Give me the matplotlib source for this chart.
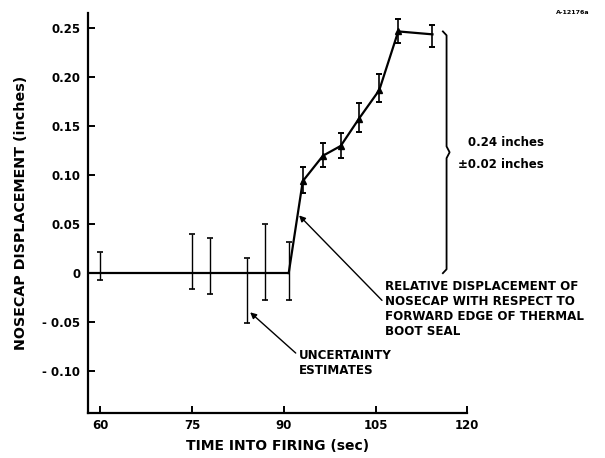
import matplotlib.pyplot as plt
import numpy as np

# flat part, before the nosecap starts to move
t_flat = [60, 75, 78, 84, 87, 90.8]
d_flat = [0, 0, 0, 0, 0, 0]
up_flat = [0.022, 0.040, 0.036, 0.016, 0.050, 0.032]
lo_flat = [0.007, 0.016, 0.021, 0.051, 0.027, 0.027]

# rising part
t_rise = [93.1, 96.4, 99.3, 102.3, 105.6, 108.7, 114.3]
d_rise = [0.094, 0.120, 0.130, 0.158, 0.187, 0.247, 0.244]
up_rise = [0.014, 0.013, 0.013, 0.016, 0.017, 0.013, 0.010]
lo_rise = [0.012, 0.012, 0.012, 0.014, 0.012, 0.012, 0.013]

xticks = [60, 75, 90, 105, 120]
yticks = [-0.10, -0.05, 0, 0.05, 0.10, 0.15, 0.20, 0.25]
ylabels = ["- 0.10", "- 0.05", "0", "0.05", "0.10", "0.15", "0.20", "0.25"]

plt.rcParams['font.family'] = ['DejaVu Sans']
fig = plt.figure(figsize=(6.05, 4.58), dpi=100)
ax = fig.add_axes([0.1455, 0.098, 0.627, 0.874])

xmin = 58
# baseline runs from the axis up to the start of the motion
ax.hlines(0, xmin, t_flat[-1], color='black', lw=1.6)
ax.plot([t_flat[-1]] + t_rise, [d_flat[-1]] + d_rise, color='black', lw=1.6)
ax.errorbar(t_flat, d_flat, yerr=[lo_flat, up_flat], fmt='none', ecolor='black',
            elinewidth=1.0, capsize=2.5, capthick=1.2)
ax.errorbar(t_rise, d_rise, yerr=[lo_rise, up_rise], fmt='none', ecolor='black',
            elinewidth=1.2, capsize=2.5, capthick=1.4)
ax.plot(t_rise[:-1], d_rise[:-1], linestyle='none', marker='^', ms=4, color='black')

ax.set_xlim(xmin, 120)
ax.set_ylim(-0.143, 0.266)
ax.set_xticks(xticks)
ax.set_xticklabels([str(v) for v in xticks])
ax.set_yticks(yticks)
ax.set_yticklabels(ylabels)
ax.spines['top'].set_visible(False)
ax.spines['right'].set_visible(False)
ax.spines['left'].set_linewidth(1.6)
ax.spines['bottom'].set_linewidth(1.6)
ax.tick_params(direction='in', length=5, width=1.4, labelsize=8.5)
ax.tick_params(axis='x', pad=4.5)
ax.tick_params(axis='y', pad=5.5)
for lab in ax.get_xticklabels() + ax.get_yticklabels():
    lab.set_fontweight('bold')

ax.set_xlabel("TIME INTO FIRING (sec)", fontsize=10, fontweight='bold', labelpad=5)
ax.set_ylabel("NOSECAP DISPLACEMENT (inches)", fontsize=10.3, fontweight='bold', labelpad=10)

# brace spanning the total displacement
top = max(d_rise)
bx = 116.6
mid = top / 2
bys = [top, top - 0.004, mid + 0.006, mid, mid - 0.006, 0.004, 0.0]
bxs = [bx - 0.6, bx, bx, bx + 0.5, bx, bx, bx - 0.6]
ax.plot(bxs, bys, color='black', lw=1.3, clip_on=False)
ax.text(bx + 3.5, mid + 0.010, "0.24 inches", fontsize=8.5, fontweight='bold', va='center')
ax.text(bx + 1.8, mid - 0.012, "\u00b10.02 inches", fontsize=8.5, fontweight='bold', va='center')

ax.annotate("RELATIVE DISPLACEMENT OF\nNOSECAP WITH RESPECT TO\nFORWARD EDGE OF THERMAL\nBOOT SEAL",
            xy=(92.5, 0.059), xytext=(106.5, -0.007), fontsize=8.6, fontweight='bold',
            va='top', ha='left', linespacing=1.2,
            arrowprops=dict(arrowstyle='-|>', color='black', lw=1.0,
                            shrinkA=0, shrinkB=0, mutation_scale=9,
                            relpos=(0, 0.6)))
ax.annotate("UNCERTAINTY\nESTIMATES",
            xy=(84.5, -0.040), xytext=(92.4, -0.077), fontsize=8.6, fontweight='bold',
            va='top', ha='left', linespacing=1.2,
            arrowprops=dict(arrowstyle='-|>', color='black', lw=1.0,
                            shrinkA=0, shrinkB=0, mutation_scale=9,
                            relpos=(0, 0.75)))

fig.text(0.975, 0.972, "A-12176a", fontsize=4.5, fontweight='bold', ha='right', va='center')

fig.savefig("out.png", dpi=100)
